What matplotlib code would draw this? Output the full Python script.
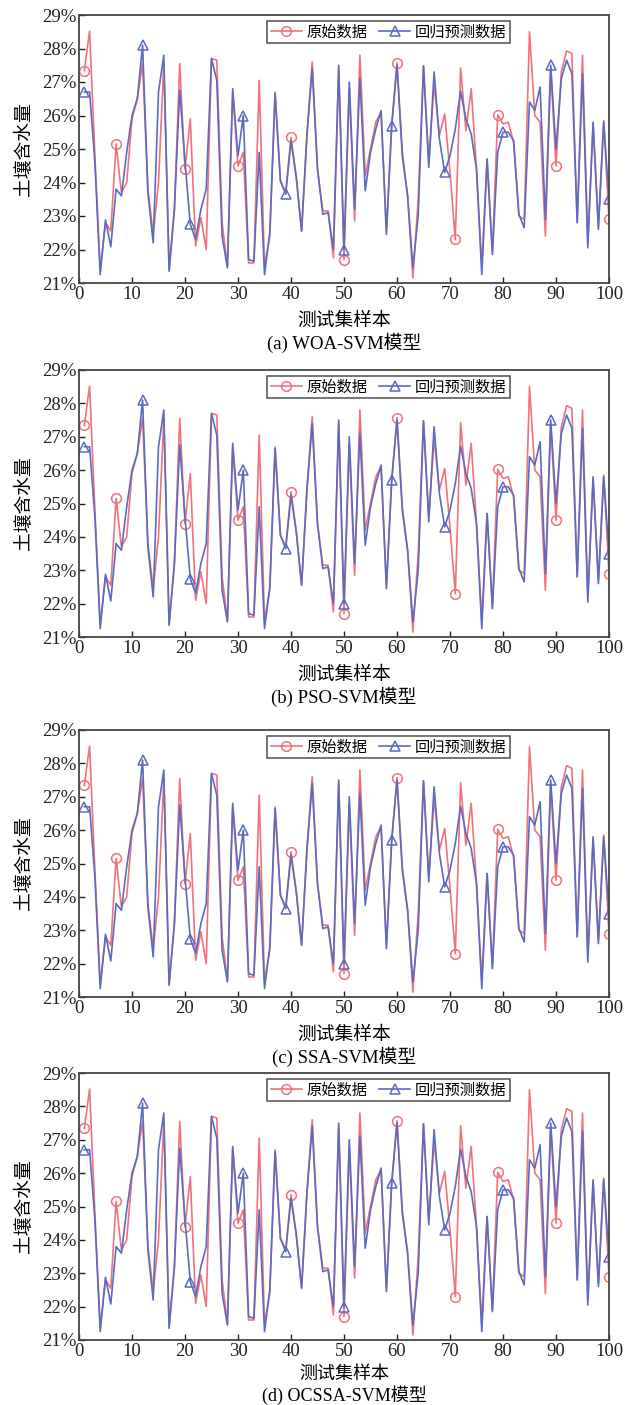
import numpy as np
import matplotlib
matplotlib.use('Agg')
import matplotlib.pyplot as plt
from matplotlib.ticker import FuncFormatter, MultipleLocator

plt.rcParams['font.family'] = ['Liberation Serif', 'Noto Sans CJK SC']
plt.rcParams['axes.unicode_minus'] = False

# test set samples 1..100, soil moisture in %
samples = list(range(1, 101))

actual = [
    27.34, 28.52, 24.8, 21.4, 22.8, 22.55, 25.15, 23.7, 24.0, 25.9,
    26.5, 27.55, 23.8, 22.45, 24.0, 27.55, 21.4, 23.2, 27.55, 24.4,
    25.9, 22.1, 22.95, 22.0, 27.7, 27.65, 22.8, 21.5, 26.7, 24.5,
    24.9, 21.6, 21.6, 27.05, 21.5, 22.4, 26.7, 24.05, 23.7, 25.35,
    24.15, 22.55, 25.4, 27.6, 24.4, 23.15, 23.15, 21.75, 27.4, 21.7,
    26.8, 22.85, 27.8, 24.2, 25.0, 25.8, 26.1, 22.55, 25.7, 27.57,
    24.9, 23.6, 21.15, 23.5, 27.48, 24.6, 26.95, 25.4, 26.05, 24.3,
    22.3, 27.42, 25.55, 26.8, 24.4, 21.5, 24.7, 21.9, 26.02, 25.75,
    25.8, 25.2, 23.0, 22.9, 28.5, 26.0, 25.8, 22.4, 27.4, 24.5,
    27.3, 27.93, 27.85, 22.8, 27.8, 22.2, 25.75, 22.7, 25.85, 22.9]

predicted = [
    26.7, 26.7, 24.6, 21.25, 22.88, 22.08, 23.8, 23.6, 24.9, 26.0,
    26.5, 28.1, 23.7, 22.2, 26.7, 27.8, 21.35, 23.2, 26.75, 24.6,
    22.75, 22.3, 23.2, 23.8, 27.7, 27.05, 22.4, 21.45, 26.8, 24.8,
    26.0, 21.7, 21.65, 24.9, 21.25, 22.5, 26.65, 24.05, 23.65, 25.25,
    24.15, 22.55, 25.4, 27.4, 24.4, 23.05, 23.1, 22.0, 27.5, 22.0,
    27.0, 23.2, 27.1, 23.75, 24.9, 25.6, 26.15, 22.45, 25.7, 27.5,
    24.8, 23.6, 21.45, 23.0, 27.48, 24.45, 27.3, 25.3, 24.3, 24.8,
    25.6, 26.72, 25.9, 25.45, 24.4, 21.25, 24.7, 21.85, 24.9, 25.5,
    25.5, 25.25, 23.05, 22.65, 26.4, 26.15, 26.85, 22.9, 27.5, 25.0,
    27.1, 27.65, 27.25, 22.8, 27.25, 22.05, 25.8, 22.6, 25.8, 23.5]

# samples that carry a marker
circle_at = [1, 7, 20, 30, 40, 50, 60, 71, 79, 90, 100]
triangle_at = [1, 12, 21, 31, 39, 50, 59, 69, 80, 89, 100]

captions = ['(a) WOA-SVM模型', '(b) PSO-SVM模型', '(c) SSA-SVM模型', '(d) OCSSA-SVM模型']

RED = '#F0727A'
BLUE = '#5B6BC0'

W, H = 627, 1405
fig = plt.figure(figsize=(W / 100, H / 100), dpi=100)

# axes top/bottom in pixels
boxes = [(15, 283), (370, 637), (730, 997), (1073, 1340)]
left, right = 79, 609

for k, ((top, bot), cap) in enumerate(zip(boxes, captions)):
    ax = fig.add_axes([left / W, 1 - bot / H, (right - left) / W, (bot - top) / H])
    ax.plot(samples, actual, color=RED, lw=1.2, marker='o', ms=7, mfc='none',
            mec=RED, mew=1.1, markevery=[s - 1 for s in circle_at], label='原始数据')
    ax.plot(samples, predicted, color=BLUE, lw=1.2, marker='^', ms=7, mfc='none',
            mec=BLUE, mew=1.1, markevery=[s - 1 for s in triangle_at], label='回归预测数据')
    ax.set_xlim(0, 100)
    ax.set_ylim(21, 29)
    ax.xaxis.set_major_locator(MultipleLocator(10))
    ax.yaxis.set_major_locator(MultipleLocator(1))
    ax.yaxis.set_major_formatter(FuncFormatter(lambda v, p: '%d%%' % round(v)))
    ax.tick_params(direction='in', length=4, width=1, labelsize=13.5, colors='#222222', pad=2)
    for sp in ax.spines.values():
        sp.set_color('#444444')
        sp.set_linewidth(1.3)
    ax.set_ylabel('土壤含水量', fontsize=13.5, labelpad=6)
    leg = ax.legend(loc='upper left', bbox_to_anchor=(0.355, 0.976), ncol=2,
                    fontsize=11, frameon=True, fancybox=False, borderpad=0.25,
                    handlelength=2.0, handletextpad=0.3, columnspacing=0.8,
                    borderaxespad=0)
    leg.get_frame().set_edgecolor('#222222')
    leg.get_frame().set_linewidth(1.1)
    xc = (left + right) / 2 / W
    # last panel sits at the very bottom edge, squeeze its texts a bit
    if k == 3:
        lab_gap, cap_gap, fs = 34, 55, 13
    else:
        lab_gap, cap_gap, fs = 38, 60, 13.5
    fig.text(xc, 1 - (bot + lab_gap) / H, '测试集样本', ha='center', va='center', fontsize=fs)
    fig.text(xc, 1 - (bot + cap_gap) / H, cap, ha='center', va='center', fontsize=fs)

fig.savefig('out.png', dpi=100)
